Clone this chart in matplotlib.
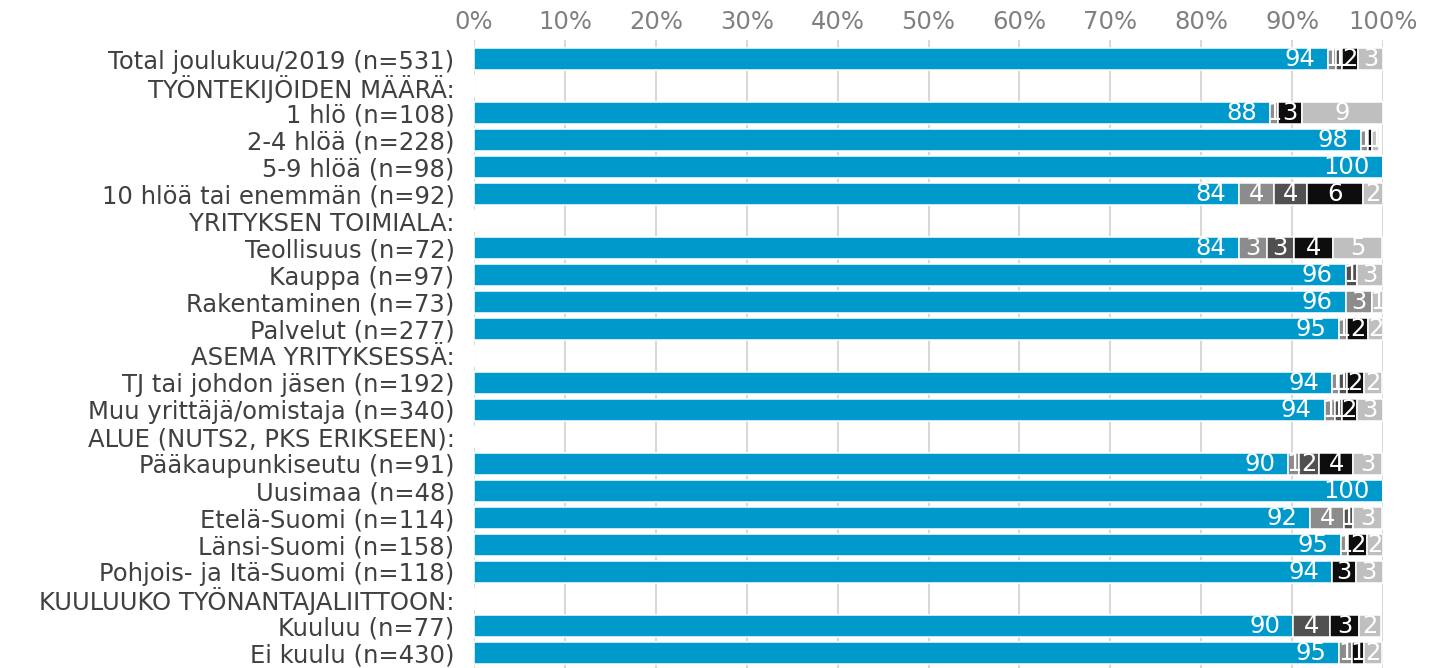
import matplotlib
matplotlib.use("Agg")
import matplotlib.pyplot as plt
import numpy as np

plt.rcParams['font.family'] = ['DejaVu Sans']

categories = [
    "Total joulukuu/2019 (n=531)",
    "TYÖNTEKIJÖIDEN MÄÄRÄ:",
    "1 hlö (n=108)",
    "2-4 hlöä (n=228)",
    "5-9 hlöä (n=98)",
    "10 hlöä tai enemmän (n=92)",
    "YRITYKSEN TOIMIALA:",
    "Teollisuus (n=72)",
    "Kauppa (n=97)",
    "Rakentaminen (n=73)",
    "Palvelut (n=277)",
    "ASEMA YRITYKSESSÄ:",
    "TJ tai johdon jäsen (n=192)",
    "Muu yrittäjä/omistaja (n=340)",
    "ALUE (NUTS2, PKS ERIKSEEN):",
    "Pääkaupunkiseutu (n=91)",
    "Uusimaa (n=48)",
    "Etelä-Suomi (n=114)",
    "Länsi-Suomi (n=158)",
    "Pohjois- ja Itä-Suomi (n=118)",
    "KUULUUKO TYÖNANTAJALIITTOON:",
    "Kuuluu (n=77)",
    "Ei kuulu (n=430)",
]

s1 = [94.0, 0, 87.6, 97.6, 100, 84.2, 0, 84.2, 95.9, 95.9, 95.2, 0, 94.4, 93.6, 0, 89.6, 100, 92.0, 95.4, 94.4, 0, 90.1, 95.2]
s2 = [0.8, 0, 0.9, 0.8, 0, 3.8, 0, 3.0, 0, 2.9, 0.8, 0, 0.8, 1.1, 0, 1.2, 0, 3.7, 0.8, 0, 0, 0, 1.4]
s3 = [0.7, 0, 0, 0, 0, 3.6, 0, 3.0, 1.2, 0, 0, 0, 0.8, 0.8, 0, 2.2, 0, 1.0, 0, 0, 0, 4.1, 0]
s4 = [1.8, 0, 2.6, 0.4, 0, 6.2, 0, 4.3, 0, 0, 2.4, 0, 1.9, 1.6, 0, 3.7, 0, 0, 2.0, 2.6, 0, 3.2, 1.3]
s5 = [2.7, 0, 8.9, 0.8, 0, 2.2, 0, 5.4, 2.9, 1.2, 1.6, 0, 2.0, 2.9, 0, 3.2, 0, 3.2, 1.8, 3.0, 0, 2.4, 2.0]

series = [s1, s2, s3, s4, s5]
colors = ["#0099CC", "#8C8C8C", "#505050", "#0D0D0D", "#BFBFBF"]
xticks = [0, 10, 20, 30, 40, 50, 60, 70, 80, 90, 100]
xticklabels = [f"{t}%" for t in xticks]

W, H = 1445, 668
fig = plt.figure(figsize=(W / 100, H / 100), dpi=100)
ax = fig.add_axes([474 / W, 0, 909 / W, 628 / H])

FS = 17.5
y = np.arange(len(categories))
left = np.zeros(len(categories))
for k, (vals, col) in enumerate(zip(series, colors)):
    vals = np.array(vals, dtype=float)
    ax.barh(y, vals, left=left, height=0.82, color=col,
            edgecolor="white", linewidth=1.1, zorder=3)
    for i, v in enumerate(vals):
        r = int(round(v))
        if r == 0:
            continue
        if k == 0:
            ax.annotate(str(r), xy=(left[i] + v, y[i]), xytext=(-13, 0),
                        textcoords="offset pixels", ha="right", va="center",
                        color="white", fontsize=FS, zorder=5)
        else:
            ax.text(left[i] + v / 2, y[i], str(r), ha="center", va="center",
                    color="white", fontsize=FS, zorder=5)
    left += vals

ax.set_xlim(0, 100)
ax.set_ylim(22.556, -0.704)
ax.set_yticks(y)
ax.set_yticklabels(categories, fontsize=FS, color="#404040")
ax.set_xticks(xticks)
ax.set_xticklabels(xticklabels, fontsize=FS, color="#808080")
ax.xaxis.tick_top()
ax.tick_params(axis="x", length=0, pad=4)
ax.tick_params(axis="y", length=0, pad=14)
ax.grid(axis="x", color="#D9D9D9", linewidth=1.5, zorder=0)
ax.set_axisbelow(True)
for sp in ax.spines.values():
    sp.set_visible(False)

fig.savefig("out.png", dpi=100)
